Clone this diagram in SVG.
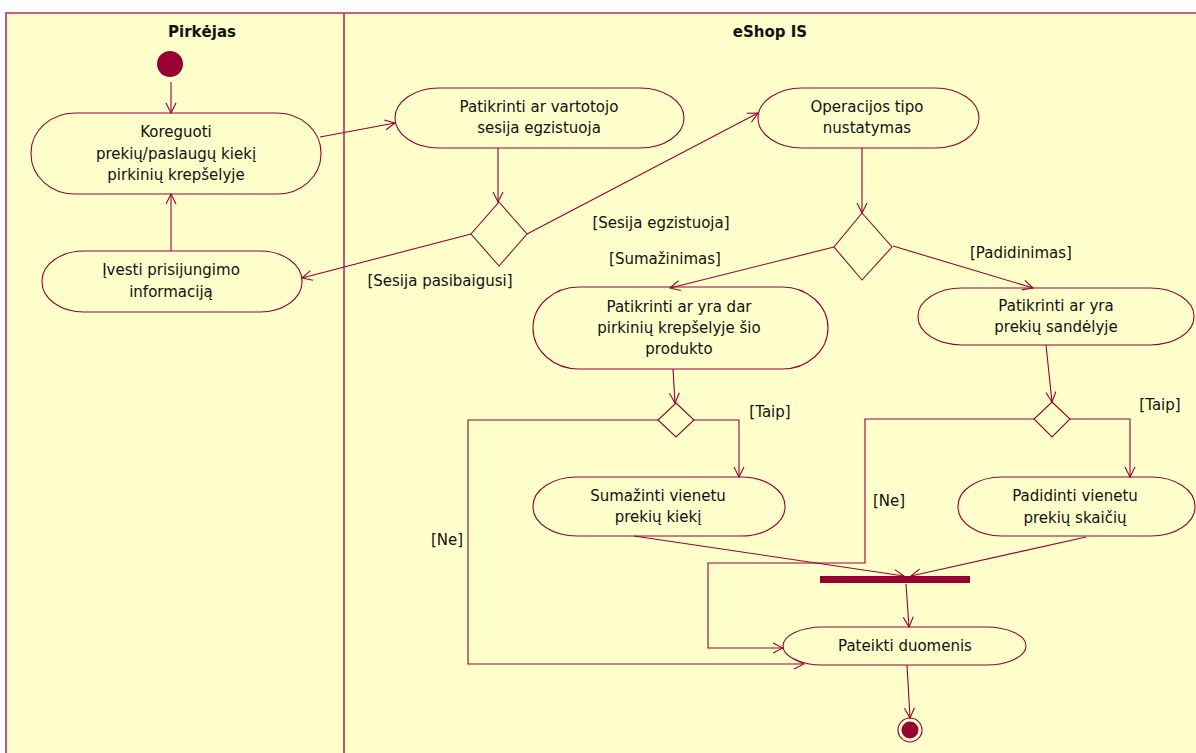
<svg xmlns="http://www.w3.org/2000/svg" width="1196" height="753" viewBox="0 0 1196 753">
  <defs>
    <marker id="open" markerUnits="userSpaceOnUse" markerWidth="12" markerHeight="12" viewBox="0 0 12 12" refX="11" refY="6" orient="auto">
      <path d="M1,1 L11,6 L1,11" fill="none" stroke="#990033" stroke-width="1.1"/>
    </marker>
  </defs>
  <style>
    .lane { fill: #FFFFCC; }
    .frame { stroke: #B0305A; stroke-width: 1.6; fill: none; }
    .act { fill: #FFFFCC; stroke: #990033; stroke-width: 1.1; }
    .dec { fill: #FFFFCC; stroke: #990033; stroke-width: 1.1; }
    .solid { fill: #990033; }
    .edge { fill: none; stroke: #990033; stroke-width: 1.1; marker-end: url(#open); }
    text { font-family: "DejaVu Sans", Verdana, sans-serif; font-size: 15px; fill: #111; }
    .c { text-anchor: middle; }
    .title { font-weight: bold; text-anchor: middle; }
  </style>

  <rect width="1196" height="753" fill="#FFFFFF"/>
  <!-- swimlanes -->
  <g id="lanes">
    <rect class="lane" x="6" y="13" width="1190" height="740"/>
    <path class="frame" d="M6,753 V13 H1196 M344,13 V753"/>
    <text class="title" x="202" y="37">Pirkėjas</text>
    <text class="title" x="770" y="37">eShop IS</text>
  </g>

  <g id="start">
    <circle class="solid" cx="170" cy="64" r="13"/>
  </g>

  <g id="koreguoti">
    <rect class="act" x="31" y="113" width="290" height="81" rx="44" ry="40"/>
    <text class="c" x="176" y="137">Koreguoti</text>
    <text class="c" x="176" y="159">prekių/paslaugų kiekį</text>
    <text class="c" x="176" y="180">pirkinių krepšelyje</text>
  </g>

  <g id="ivesti">
    <rect class="act" x="42" y="251" width="260" height="61" rx="42" ry="30"/>
    <text class="c" x="171" y="275">Įvesti prisijungimo</text>
    <text class="c" x="171" y="297">informaciją</text>
  </g>

  <g id="sesija">
    <rect class="act" x="395" y="88" width="289" height="60" rx="44" ry="30"/>
    <text class="c" x="539" y="112">Patikrinti ar vartotojo</text>
    <text class="c" x="539" y="133">sesija egzistuoja</text>
  </g>

  <g id="sesijaDecision">
    <polygon class="dec" points="499,202 527,234 499,266 471,234"/>
  </g>

  <g id="operacija">
    <rect class="act" x="758" y="88" width="221" height="60" rx="44" ry="30"/>
    <text class="c" x="867" y="112">Operacijos tipo</text>
    <text class="c" x="867" y="133">nustatymas</text>
  </g>

  <g id="operacijaDecision">
    <polygon class="dec" points="862,213 892,247 862,280 834,247"/>
  </g>

  <g id="arYraDar">
    <rect class="act" x="533" y="287" width="295" height="82" rx="46" ry="41"/>
    <text class="c" x="679" y="312">Patikrinti ar yra dar</text>
    <text class="c" x="679" y="333">pirkinių krepšelyje šio</text>
    <text class="c" x="679" y="354">produkto</text>
  </g>

  <g id="arYraSandelyje">
    <rect class="act" x="918" y="288" width="276" height="57" rx="44" ry="28"/>
    <text class="c" x="1056" y="311">Patikrinti ar yra</text>
    <text class="c" x="1056" y="332">prekių sandėlyje</text>
  </g>

  <g id="darDecision">
    <polygon class="dec" points="676,403 694,420 676,437 658,420"/>
  </g>

  <g id="sandelyjeDecision">
    <polygon class="dec" points="1052,402 1070,419 1052,437 1034,419"/>
  </g>

  <g id="sumazinti">
    <rect class="act" x="533" y="477" width="252" height="59" rx="44" ry="29"/>
    <text class="c" x="658" y="501">Sumažinti vienetu</text>
    <text class="c" x="658" y="522">prekių kiekį</text>
  </g>

  <g id="padidinti">
    <rect class="act" x="958" y="477" width="237" height="59" rx="44" ry="29"/>
    <text class="c" x="1075" y="501">Padidinti vienetu</text>
    <text class="c" x="1075" y="523">prekių skaičių</text>
  </g>

  <g id="join">
    <rect class="solid" x="820" y="576" width="150" height="7"/>
  </g>

  <g id="pateikti">
    <rect class="act" x="783" y="627" width="243" height="38" rx="40" ry="19"/>
    <text class="c" x="905" y="651">Pateikti duomenis</text>
  </g>

  <g id="end">
    <circle cx="910" cy="730" r="12" fill="#FFFFCC" stroke="#990033" stroke-width="1.1"/>
    <circle class="solid" cx="910" cy="730" r="8.5"/>
  </g>

  <!-- transitions -->
  <g id="connectors">
    <path class="edge" d="M171,82 V113"/>
    <path class="edge" d="M171,251 V194"/>
    <path class="edge" d="M320,137 L395,123"/>
    <path class="edge" d="M498,148 V202"/>
    <path class="edge" d="M471,234 L302,278"/>
    <path class="edge" d="M527,234 L758,113"/>
    <path class="edge" d="M862,148 V213"/>
    <path class="edge" d="M834,247 L670,288"/>
    <path class="edge" d="M893,246 L1033,288"/>
    <path class="edge" d="M673,369 L675,403"/>
    <path class="edge" d="M694,420 H739 V477"/>
    <path class="edge" d="M658,420 H468 V664 H804"/>
    <path class="edge" d="M1046,345 L1052,402"/>
    <path class="edge" d="M1070,419 H1130 V477"/>
    <path class="edge" d="M1034,419 H865 V563 H708 V648 H783"/>
    <path class="edge" d="M634,536 L904,576"/>
    <path class="edge" d="M1086,537 L911,576"/>
    <path class="edge" d="M906,584 L909,627"/>
    <path class="edge" d="M907,665 L910,718"/>
  </g>

  <!-- guard labels -->
  <g id="guards">
    <text class="c" x="661" y="228">[Sesija egzistuoja]</text>
    <text class="c" x="440" y="286">[Sesija pasibaigusi]</text>
    <text class="c" x="665" y="264">[Sumažinimas]</text>
    <text class="c" x="1021" y="258">[Padidinimas]</text>
    <text class="c" x="770" y="417">[Taip]</text>
    <text class="c" x="1160" y="410">[Taip]</text>
    <text class="c" x="889" y="506">[Ne]</text>
    <text class="c" x="447" y="545">[Ne]</text>
  </g>
</svg>
